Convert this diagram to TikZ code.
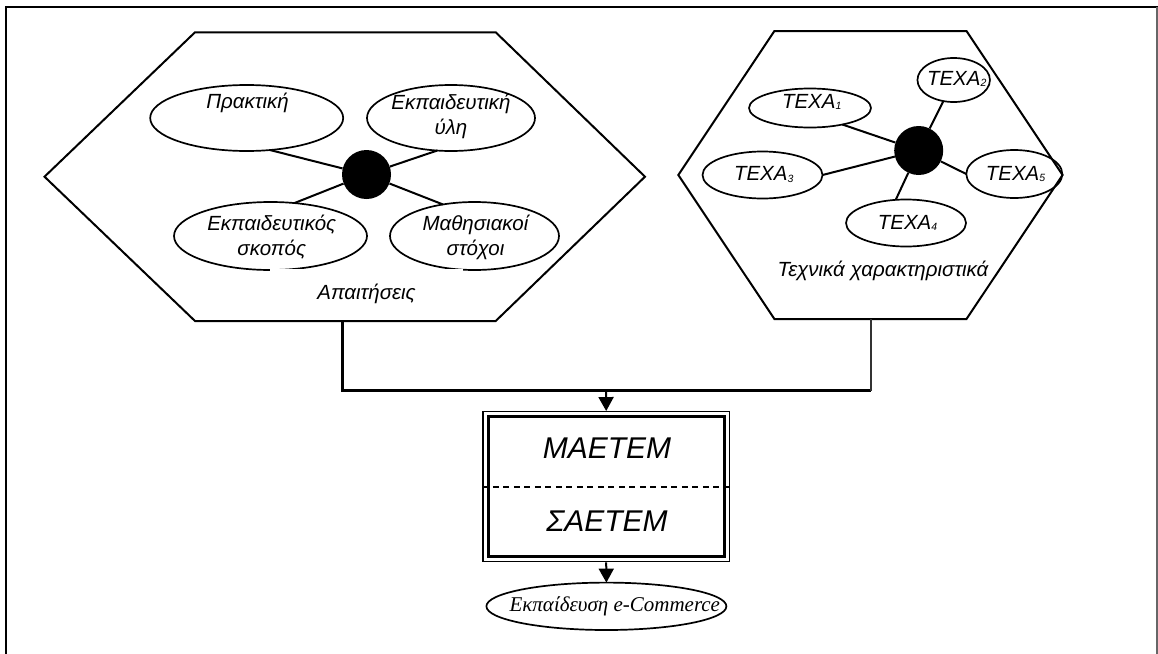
\documentclass[tikz,border=0pt]{standalone}
\usepackage{fontspec}
\setmainfont{Liberation Sans}
\newfontfamily\timesfont{Liberation Serif}
\usetikzlibrary{arrows.meta,shapes.geometric}
% small lowered index digit
\newcommand\lowidx[1]{\raisebox{-1.5pt}{\fontsize{10.5}{10.5}\selectfont #1}}

\begin{document}
\begin{tikzpicture}[x=1pt,y=-1pt,
  hexline/.style={line width=2pt},
  oval/.style={ellipse, draw, line width=1.7pt, inner sep=0pt, outer sep=0pt},
  hub/.style={circle, fill=black, inner sep=0pt, minimum size=49pt},
  spoke/.style={line width=2pt},
  lbl/.style={font=\fontsize{20.5}{25}\selectfont\itshape, inner sep=0pt, align=center},
  big/.style={font=\fontsize{30}{36}\selectfont\itshape, inner sep=0pt},
  feed/.style={line width=3pt},
  flow/.style={line width=2pt, -{Triangle[length=14pt,width=15pt]}},
]
\useasboundingbox (0,0) rectangle (1158,653);
\clip (0,0) rectangle (1158,653);

% outer frame (open at the bottom)
\draw[line width=2pt] (6.3,670) -- (6.3,7) -- (1165,7);
\draw[line width=1.5pt, black!60] (1157.2,7) -- (1157.2,670);

% requirements hexagon
\draw[hexline] (44.5,176.7) -- (195,32.3) -- (495.7,32.3) -- (645,176.7)
  -- (495.7,321) -- (195,321) -- cycle;
% technical characteristics hexagon
\draw[hexline] (678.3,175) -- (774.4,31) -- (966.5,31) -- (1062.6,175)
  -- (966.5,319) -- (774.4,319) -- cycle;

% requirement bubbles
\node[oval, minimum width=193pt, minimum height=66pt] (prak) at (246.7,118) {};
\node[oval, minimum width=168pt, minimum height=66pt] (ulh) at (451,118) {};
\node[oval, minimum width=193pt, minimum height=68pt] (skop) at (270.5,236) {};
\node[oval, minimum width=169pt, minimum height=68pt] (math) at (474.5,236) {};
\node[hub] (hubL) at (366.5,174.5) {};
\draw[spoke] (prak.-54) -- (hubL);
\draw[spoke] (ulh.-113) -- (hubL);
\draw[spoke] (skop.54) -- (hubL);
\draw[spoke] (math.135) -- (hubL);

\node[lbl, anchor=base] (prak-t) at (247.5,108.3) {Πρακτική};
\node[lbl] (ulh-t) at (451,116.5) {Εκπαιδευτική\strut\\ύλη\strut};
\node[lbl] (skop-t) at (271.7,237.5) {Εκπαιδευτικός\strut\\σκοπός\strut};
\node[lbl] (math-t) at (475.5,237.5) {Μαθησιακοί\strut\\στόχοι\strut};
\node[lbl, fill=white, minimum width=193pt, minimum height=50pt] (req)
  at (366.5,294) {\raisebox{-2pt}{Απαιτήσεις}};

% technical characteristic bubbles
\node[oval, minimum width=122pt, minimum height=39pt] (t1) at (810,108) {};
\node[oval, minimum width=72.5pt, minimum height=44pt] (t2) at (953.7,80) {};
\node[oval, minimum width=120pt, minimum height=47pt] (t3) at (762.5,175) {};
\node[oval, minimum width=120pt, minimum height=47pt] (t4) at (906,223) {};
\node[oval, minimum width=96pt, minimum height=48pt] (t5) at (1014.3,174) {};
\node[hub] (hubR) at (918.7,150.5) {};
\draw[spoke] (t1.-27) -- (hubR);
\draw[spoke] (t2.-116) -- (hubR);
\draw[spoke] (t3.east) -- (hubR);
\draw[spoke] (t4.114) -- (hubR);
\draw[spoke] (t5.west) -- (hubR);

\node[lbl, anchor=base] (t1-t) at (811.7,108.3) {ΤΕΧΑ\lowidx{1}};
\node[lbl, anchor=base] (t2-t) at (956.7,85) {ΤΕΧΑ\lowidx{2}};
\node[lbl, anchor=base] (t3-t) at (763.7,180.7) {ΤΕΧΑ\lowidx{3}};
\node[lbl, anchor=base] (t4-t) at (907.5,229.3) {ΤΕΧΑ\lowidx{4}};
\node[lbl, anchor=base] (t5-t) at (1015.5,180) {ΤΕΧΑ\lowidx{5}};
\node[lbl, anchor=base] (tech) at (883,276.7) {Τεχνικά χαρακτηριστικά};

% merging connectors
\coordinate (reqout) at (342,321);
\coordinate (techout) at (871,319);
\coordinate (join) at (871,390.7);
\coordinate (merge) at (606,390.7);
\draw[feed] (reqout) |- (join);
\draw[line width=2pt, black!80] (techout) -- (join);

% method box
\node[draw, line width=1.3pt, minimum width=246.4pt, minimum height=150pt,
  inner sep=0pt] (core) at (606.2,486.7) {};
\draw[line width=3pt] ([shift={(6pt,-5.5pt)}]core.north west)
  rectangle ([shift={(-6pt,5.5pt)}]core.south east);
\draw[line width=1.6pt, dash pattern=on 6pt off 4.5pt] (core.west) -- (core.east);
\node[big, anchor=base] (m1) at (607,458.3) {ΜΑΕΤΕΜ};
\node[big, anchor=base] (m2) at (607,531.7) {ΣΑΕΤΕΜ};

% outcome
\node[oval, minimum width=240pt, minimum height=47.4pt] (goal) at (606.4,606.3) {};
\node[font=\timesfont\itshape\fontsize{21}{25}\selectfont, anchor=base, inner sep=0pt]
  (goal-t) at (614.8,611.7) {Εκπαίδευση e-Commerce};

\draw[flow] (merge) -- (core.north);
\draw[flow] (core.south) -- (goal.north);
\end{tikzpicture}
\end{document}
